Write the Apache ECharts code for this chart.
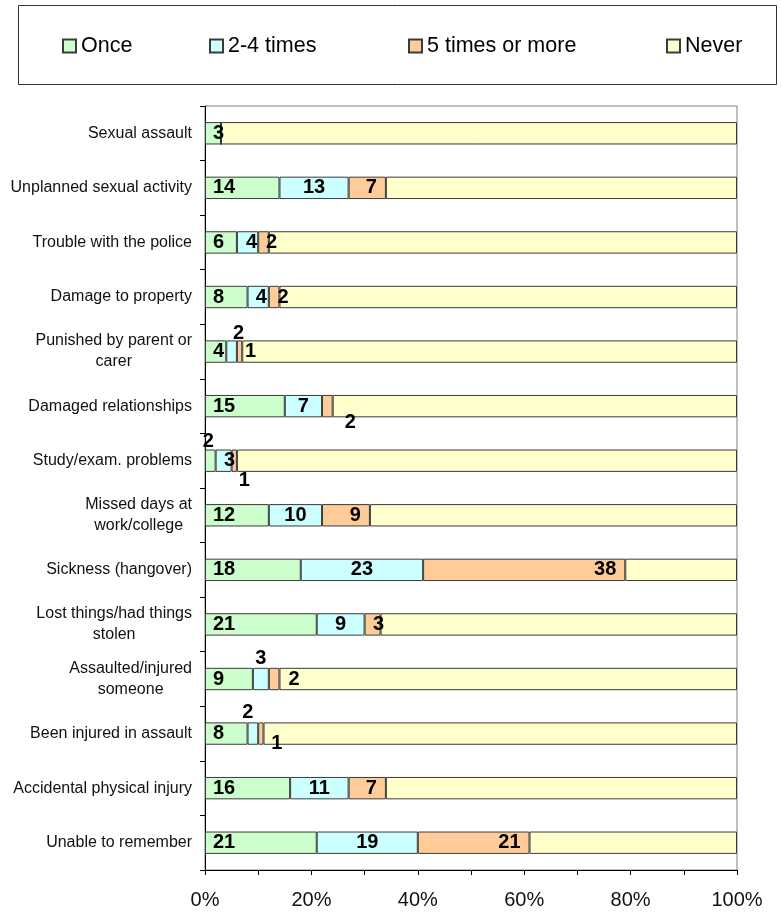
<!DOCTYPE html>
<html>
<head>
<meta charset="utf-8">
<script src="https://cdn.jsdelivr.net/npm/echarts@6/dist/echarts.min.js"></script>
<style>
html,body{margin:0;padding:0;background:#fff;}
#chart{width:781px;height:912px;}
</style>
</head>
<body>
<div id="chart"></div>
<script>
const categories = [
  'Sexual assault',
  'Unplanned sexual activity',
  'Trouble with the police',
  'Damage to property',
  'Punished by parent or\ncarer',
  'Damaged relationships',
  'Study/exam. problems',
  'Missed days at\nwork/college',
  'Sickness (hangover)',
  'Lost things/had things\nstolen',
  'Assaulted/injured\nsomeone',
  'Been injured in assault',
  'Accidental physical injury',
  'Unable to remember'
];
const seriesNames = ['Once', '2-4 times', '5 times or more', 'Never'];
const once      = [3, 14, 6, 8, 4, 15, 2, 12, 18, 21, 9, 8, 16, 21];
const twoToFour = [0, 13, 4, 4, 2, 7, 3, 10, 23, 9, 3, 2, 11, 19];
const fivePlus  = [0, 7, 2, 2, 1, 2, 1, 9, 38, 3, 2, 1, 7, 21];
const never     = [97, 66, 88, 86, 93, 76, 94, 69, 21, 67, 86, 89, 66, 39];
const xTicks = [0, 20, 40, 60, 80, 100];

const FONT = '"Liberation Sans", Arial, Helvetica, sans-serif';
const colors = ['#CCFFCC', '#CCFFFF', '#FFCC99', '#FFFFCC'];

// label tweaks for tiny segments: key "series-category" -> [relX, relY, dx, dy]
const tweaks = {
  '1-4': ['50%', '0%', 7, -7],
  '2-4': ['50%', '50%', 11, 0],
  '2-5': ['50%', '100%', 23, 5],
  '0-6': ['50%', '0%', -2, -8],
  '1-6': ['50%', '50%', 6, 0],
  '2-6': ['50%', '100%', 10, 9],
  '1-10': ['50%', '0%', 0, -9],
  '2-10': ['50%', '50%', 20, 0],
  '1-11': ['50%', '0%', -5, -10],
  '2-11': ['50%', '100%', 16, -1],
  '2-2': ['50%', '50%', 8, 0],
  '2-3': ['50%', '50%', 9, 0],
  '2-9': ['50%', '50%', 6, 0],
  '1-2': ['50%', '50%', 4, 0],
  '1-3': ['50%', '50%', 3, 0]
};
const basePos = ['insideLeft', 'inside', 'insideRight'];
const baseDist = [8, 5, 9];

function buildData(values, si) {
  return values.map((v, ci) => {
    const t = tweaks[si + '-' + ci];
    if (!t) return v;
    return {
      value: v,
      label: {
        position: [t[0], t[1]],
        offset: [t[2], t[3]],
        align: 'center',
        verticalAlign: 'middle'
      }
    };
  });
}

const valueSets = [once, twoToFour, fivePlus, never];
const series = valueSets.map((vals, si) => ({
  name: seriesNames[si],
  type: 'bar',
  stack: 'total',
  barCategoryGap: '59%',
  data: si < 3 ? buildData(vals, si) : vals,
  itemStyle: { color: colors[si], borderColor: '#3a3a3a', borderWidth: 1 },
  label: {
    show: si < 3,
    position: basePos[si] || 'inside',
    distance: baseDist[si] || 5,
    fontFamily: FONT,
    fontSize: 20,
    fontWeight: 'bold',
    color: '#000',
    formatter: p => (p.value > 0 ? String(p.value) : '')
  },
  emphasis: { disabled: true },
  silent: true,
  animation: false
}));

const legendLefts = [57, 204, 403, 661];
const legends = seriesNames.map((n, i) => ({
  data: [n],
  left: legendLefts[i],
  top: 30,
  icon: 'rect',
  itemWidth: 13,
  itemHeight: 13,
  itemGap: 0,
  selectedMode: false,
  textStyle: { fontFamily: FONT, fontSize: 21.5, color: '#000' }
}));

const chart = echarts.init(document.getElementById('chart'), null, { renderer: 'canvas' });
chart.setOption({
  animation: false,
  backgroundColor: '#fff',
  graphic: [{
    type: 'rect',
    shape: { x: 18.5, y: 5.5, width: 758, height: 79 },
    style: { fill: 'none', stroke: '#333', lineWidth: 1 },
    silent: true
  }],
  legend: legends,
  grid: {
    left: 205, right: 44, top: 106, bottom: 42,
    show: true, borderColor: '#808080', borderWidth: 1, backgroundColor: '#fff'
  },
  xAxis: {
    type: 'value',
    min: xTicks[0],
    max: xTicks[xTicks.length - 1],
    interval: xTicks[1] - xTicks[0],
    axisLine: { show: true, lineStyle: { color: '#000', width: 1 } },
    axisTick: { show: true, length: 5, lineStyle: { color: '#000' } },
    minorTick: { show: true, splitNumber: 2, length: 5, lineStyle: { color: '#000' } },
    splitLine: { show: false },
    axisLabel: {
      formatter: '{value}%',
      fontFamily: FONT, fontSize: 20, color: '#111', margin: 20
    }
  },
  yAxis: {
    type: 'category',
    inverse: true,
    data: categories,
    axisLine: { show: true, lineStyle: { color: '#000', width: 1 } },
    axisTick: { show: true, length: 5, lineStyle: { color: '#000' } },
    axisLabel: {
      margin: 13,
      align: 'right',
      fontFamily: FONT, fontSize: 16, color: '#111', lineHeight: 21,
      formatter: v => v.split('\n').map(l => '{c|' + l + '}').join('\n'),
      rich: { c: { align: 'center', fontFamily: FONT, fontSize: 16, color: '#111', lineHeight: 21 } }
    }
  },
  series: series
});
</script>
</body>
</html>
